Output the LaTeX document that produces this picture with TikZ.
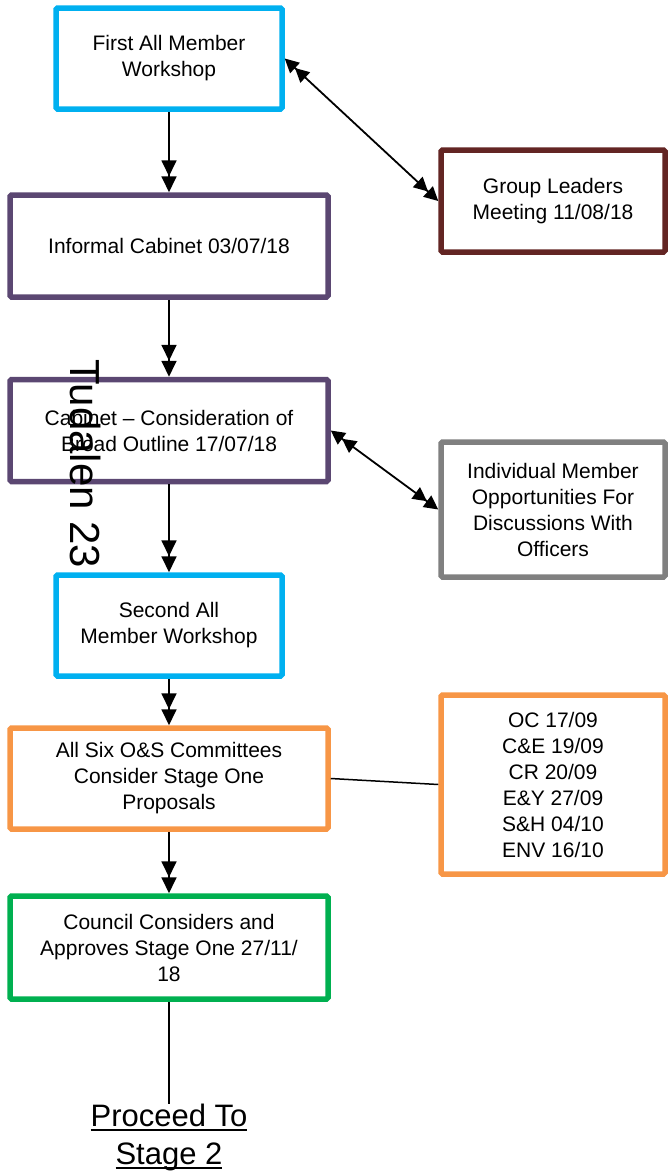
\documentclass[tikz,border=0pt]{standalone}
\usepackage{fontspec}
\setmainfont{Liberation Sans}
\usetikzlibrary{arrows.meta}

\definecolor{workshopblue}{HTML}{00B0F0}
\definecolor{cabinetpurple}{HTML}{5B4772}
\definecolor{leadersred}{HTML}{632523}
\definecolor{officergray}{HTML}{808080}
\definecolor{committeeorange}{HTML}{F79646}
\definecolor{councilgreen}{HTML}{00B050}

\newcommand{\stageline}[1]{\setbox0\hbox{#1}\rlap{\rule[-4pt]{\wd0}{1.6pt}}\box0}

\begin{document}
\begin{tikzpicture}[x=1pt,y=-1pt,draw=black]
    \tikzstyle{stage}=[rectangle,draw,line width=5.5pt,rounded corners=1.5pt,align=center,inner sep=0pt,font=\fontsize{21}{26}\selectfont]
    \tikzstyle{wide stage}=[stage,minimum width=318pt,minimum height=102pt]
    \tikzstyle{narrow stage}=[stage,minimum width=226pt,minimum height=101pt]
    \tikzstyle{side stage}=[stage,minimum width=224pt]
    \tikzstyle{flow}=[-{Triangle[length=16pt,width=15pt]Triangle[length=16pt,width=15pt]},line width=1.8pt]
    \tikzstyle{both flow}=[{Triangle[length=14pt,width=14pt]Triangle[length=14pt,width=14pt]}-{Triangle[length=14pt,width=14pt]Triangle[length=14pt,width=14pt]},line width=1.8pt]
    \tikzstyle{plain}=[line width=1.5pt]

    \useasboundingbox (0,0) rectangle (668,1173);

    % Draw the main column
    \node[narrow stage,draw=workshopblue] (W1) at (169,58.5) {First All Member\\Workshop};
    \node[wide stage,draw=cabinetpurple] (C1) at (169,246) {Informal Cabinet 03/07/18};
    \node[wide stage,draw=cabinetpurple] (C2) at (169,430.5) {Cabinet -- Consideration of\\Broad Outline 17/07/18};
    \node[narrow stage,draw=workshopblue] (W2) at (169,625.5) {Second All\\Member Workshop};
    \node[wide stage,draw=committeeorange,minimum height=101pt] (OS) at (169,778.5) {All Six O\&S Committees\\Consider Stage One\\Proposals};
    \node[wide stage,draw=councilgreen,minimum height=103pt] (CO) at (169,947.5) {Council Considers and\\Approves Stage One 27/11/\\18};
    \node[align=center,anchor=north,inner sep=0pt,font=\fontsize{31}{38}\selectfont] (S2) at (169,1104) {\stageline{Proceed To}\\\stageline{Stage 2}};

    % Draw the side boxes
    \node[side stage,draw=leadersred,minimum height=102pt] (GL) at (553,201) {Group Leaders\\Meeting 11/08/18};
    \node[side stage,draw=officergray,minimum height=135pt] (IM) at (553,509.5) {Individual Member\\Opportunities For\\Discussions With\\Officers};
    \node[side stage,draw=committeeorange,minimum height=179pt] (DT) at (553,784.5) {OC 17/09\\C\&E 19/09\\CR 20/09\\E\&Y 27/09\\S\&H 04/10\\ENV 16/10};

    % Connect the main column
    \foreach \source/\dest in {W1/C1,C1/C2,C2/W2,W2/OS,OS/CO}
        \draw[flow] (\source) -- (\dest);
    \draw[plain] (CO) -- (S2);

    % Connect the side boxes
    \draw[both flow] (W1.east) -- (GL.west);
    \draw[both flow] (C2.east) -- (IM.west);
    \draw[plain] (OS.east) -- (DT.west);

    % Page label
    \node[rotate=-90,inner sep=0pt,font=\fontsize{42}{42}\selectfont] (PG) at (86,464) {Tudalen 23};
\end{tikzpicture}
\end{document}
